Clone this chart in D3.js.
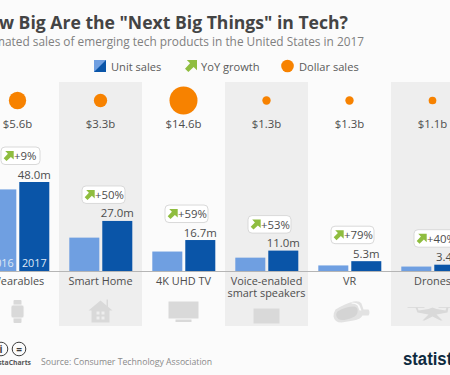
<!DOCTYPE html>
<html>
<head>
<meta charset="utf-8">
<script src="https://cdn.jsdelivr.net/npm/d3@7"></script>
<style>
html, body { margin: 0; padding: 0; background: #fbfbfb; overflow: hidden; }
text { font-family: "Open Sans", sans-serif; }
</style>
</head>
<body>
<div id="chart-area"></div>
<script>
const categories = ['Wearables', 'Smart Home', '4K UHD TV', 'Voice-enabled smart speakers', 'VR', 'Drones'];
const labelLines = [['Wearables'], ['Smart Home'], ['4K UHD TV'], ['Voice-enabled', 'smart speakers'], ['VR'], ['Drones']];
const years = ['2016', '2017'];
const units2016 = [44.0, 18.0, 10.5, 7.2, 3.0, 2.4];
const units2017 = [48.0, 27.0, 16.7, 11.0, 5.3, 3.4];
const growth = ['+9%', '+50%', '+59%', '+53%', '+79%', '+40%'];
const dollars = [5.6, 3.3, 14.6, 1.3, 1.3, 1.1];
const dollarLabels = ['$5.6b', '$3.3b', '$14.6b', '$1.3b', '$1.3b', '$1.1b'];
const unitLabels = ['48.0m', '27.0m', '16.7m', '11.0m', '5.3m', '3.4m'];

const width = 450, height = 375;
const baseY = 271, bandTop = 82, bandBottom = 326;
const lightBlue = '#6f9fe1', darkBlue = '#0a55a8', orange = '#f78200', green = '#8fbd3f';
const textColor = '#4d4d4d';

const svg = d3.select('#chart-area')
    .append('svg')
    .attr('width', width)
    .attr('height', height)
    .style('display', 'block');

svg.append('rect')
    .attr('width', width)
    .attr('height', height)
    .attr('fill', '#fbfbfb');

// six columns 83px wide, the first and last run off the edges of the picture
const xScale = d3.scaleBand()
    .domain(categories)
    .range([-24, 474]);

const barScale = d3.scaleBand()
    .domain(years)
    .range([10.3, 73.3])
    .paddingInner(0.09);

const yScale = d3.scaleLinear()
    .domain([0, 48])
    .range([baseY, baseY - 89]);

const rScale = d3.scaleSqrt()
    .domain([0, 14.6])
    .range([0, 14]);

// title
svg.append('text')
    .text('How Big Are the "Next Big Things" in Tech?')
    .attr('x', 348)
    .attr('y', 29)
    .attr('text-anchor', 'end')
    .attr('font-size', '17.6px')
    .attr('font-weight', 700)
    .attr('fill', '#444');

svg.append('text')
    .text('Estimated sales of emerging tech products in the United States in 2017')
    .attr('x', 364)
    .attr('y', 46)
    .attr('text-anchor', 'end')
    .attr('font-size', '11.85px')
    .attr('fill', '#808080');

// grey columns
svg.selectAll('.band')
    .data(categories.filter((d, i) => i % 2 === 1))
    .enter().append('rect')
    .attr('class', 'band')
    .attr('x', d => xScale(d))
    .attr('y', bandTop)
    .attr('width', xScale.bandwidth())
    .attr('height', bandBottom - bandTop)
    .attr('fill', '#eeeeee');

const arrow = (sel, size, color) => {
    sel.append('path')
        .attr('d', 'M1.5 0H10V8.5L7.2 5.9L2.8 10L0 7.2L4.2 2.8Z')
        .attr('transform', 'scale(' + size / 10 + ')')
        .attr('fill', color);
};

// legend
const legend = svg.append('g');

legend.append('rect')
    .attr('x', 94)
    .attr('y', 60)
    .attr('width', 12)
    .attr('height', 12)
    .attr('fill', darkBlue);

legend.append('path')
    .attr('d', 'M94 60H106L94 72Z')
    .attr('fill', lightBlue);

legend.append('g')
    .attr('transform', 'translate(185, 60)')
    .call(arrow, 12, green);

legend.append('circle')
    .attr('cx', 287.5)
    .attr('cy', 66)
    .attr('r', 6.3)
    .attr('fill', orange);

const legendItems = [['Unit sales', 111], ['YoY growth', 201], ['Dollar sales', 299]];

legend.selectAll('text')
    .data(legendItems)
    .enter().append('text')
    .attr('x', d => d[1])
    .attr('y', 70.5)
    .attr('font-size', '11.1px')
    .attr('fill', '#5a5a5a')
    .text(d => d[0]);

const columns = svg.selectAll('.column')
    .data(categories)
    .enter().append('g')
    .attr('class', 'column')
    .attr('transform', d => 'translate(' + xScale(d) + ', 0)');

const mid = xScale.bandwidth() / 2;

// dollar circles
columns.append('circle')
    .attr('cx', mid)
    .attr('cy', 100.5)
    .attr('r', (d, i) => rScale(dollars[i]))
    .attr('fill', orange);

columns.append('text')
    .attr('x', mid)
    .attr('y', 127.5)
    .attr('text-anchor', 'middle')
    .attr('font-size', '11.4px')
    .attr('fill', textColor)
    .text((d, i) => dollarLabels[i]);

// bars
columns.append('rect')
    .attr('x', barScale('2016'))
    .attr('y', (d, i) => yScale(units2016[i]))
    .attr('width', barScale.bandwidth())
    .attr('height', (d, i) => baseY - yScale(units2016[i]))
    .attr('fill', lightBlue);

columns.append('rect')
    .attr('x', barScale('2017'))
    .attr('y', (d, i) => yScale(units2017[i]))
    .attr('width', barScale.bandwidth())
    .attr('height', (d, i) => baseY - yScale(units2017[i]))
    .attr('fill', darkBlue);

columns.append('text')
    .attr('x', barScale('2017') + barScale.bandwidth() / 2)
    .attr('y', (d, i) => yScale(units2017[i]) - 3.5)
    .attr('text-anchor', 'middle')
    .attr('font-size', '11.4px')
    .attr('fill', textColor)
    .text((d, i) => unitLabels[i]);

// year labels, only on the first column
const firstColumn = columns.filter((d, i) => i === 0);

years.forEach(year => {
    firstColumn.append('text')
        .attr('x', barScale(year) + barScale.bandwidth() / 2)
        .attr('y', 267)
        .attr('text-anchor', 'middle')
        .attr('font-size', '10.8px')
        .attr('fill', '#dfe9f6')
        .text(year);
});

// growth badges
columns.each(function(d, i) {
    const boxW = i === 0 ? 39 : 43;
    const boxX = mid + 3 - boxW / 2;
    const boxY = yScale(units2017[i]) - 35;
    const badge = d3.select(this).append('g')
        .attr('transform', 'translate(' + boxX + ', ' + boxY + ')');

    badge.append('rect')
        .attr('width', boxW)
        .attr('height', 17.5)
        .attr('rx', 4)
        .attr('fill', '#fff')
        .attr('stroke', '#d9d9d9');

    badge.append('g')
        .attr('transform', 'translate(2.7, 4)')
        .call(arrow, 10, green);

    badge.append('text')
        .attr('x', 13)
        .attr('y', 13)
        .attr('font-size', '11.4px')
        .attr('fill', textColor)
        .text(growth[i]);
});

// baseline and category labels
const xAxisCall = d3.axisBottom(xScale)
    .tickSize(0)
    .tickFormat('');

const xAxis = svg.append('g')
    .attr('transform', 'translate(0, ' + baseY + ')')
    .call(xAxisCall);

xAxis.select('.domain').attr('stroke', '#b5b5b5');
xAxis.selectAll('.tick text').remove();

columns.each(function(d, i) {
    d3.select(this).selectAll('.cat')
        .data(labelLines[i])
        .enter().append('text')
        .attr('class', 'cat')
        .attr('x', mid)
        .attr('y', (line, j) => 285 + j * 12)
        .attr('text-anchor', 'middle')
        .attr('font-size', '10.9px')
        .attr('fill', textColor)
        .text(line => line);
});

// product icons, drawn around the middle of each column
const iconColor = '#d9d9d9';
const icons = columns.append('g')
    .attr('transform', 'translate(' + mid + ', 311.5)')
    .attr('fill', iconColor);

icons.filter((d, i) => i === 0).call(g => {
    g.append('rect').attr('x', -4).attr('y', -11.5).attr('width', 8).attr('height', 23).attr('rx', 1);
    g.append('rect').attr('x', -6.5).attr('y', -6.5).attr('width', 13).attr('height', 13).attr('rx', 2)
        .attr('stroke', '#fbfbfb').attr('stroke-width', 0.8);
});

icons.filter((d, i) => i === 1).call(g => {
    g.append('path').attr('d', 'M-12 -1L0 -11L12 -1L9 -1V11H-9V-1Z');
    g.append('rect').attr('x', 6).attr('y', -12).attr('width', 1.5).attr('height', 8);
    g.append('path').attr('d', 'M-4 0H-1V3H-4ZM1 0H4V3H1ZM-4 5H-1V8H-4ZM1 5H4V8H1Z').attr('fill', '#eeeeee');
});

icons.filter((d, i) => i === 2).call(g => {
    g.append('rect').attr('x', -15).attr('y', -10).attr('width', 30).attr('height', 17);
    g.append('rect').attr('x', -8).attr('y', 8).attr('width', 16).attr('height', 2.5);
});

icons.filter((d, i) => i === 3).call(g => {
    g.append('rect').attr('x', -13).attr('y', -3).attr('width', 26).attr('height', 15);
});

// headset seen from the side, strap running back to the right
icons.filter((d, i) => i === 4).call(g => {
    g.append('path').attr('d', 'M-14 -2Q-4 -8 4 -10Q10 -11 12 -8L14 -2H19Q21 1 19 4H13Q11 8 4 9L-8 11Q-15 11 -16 5Q-16 1 -14 -2Z')
        .attr('fill', '#e2e2e2');
    g.append('path').attr('d', 'M-12 0Q-4 -5 5 -5Q9 -4 8 1Q7 6 -3 8Q-11 10 -13 5Q-14 2 -12 0Z')
        .attr('fill', '#d4d4d4');
    g.append('path').attr('d', 'M2 -9Q8 -9 10 -6L12 -1H10L8 -6Q6 -8 2 -8Z')
        .attr('fill', '#fbfbfb');
});

icons.filter((d, i) => i === 5).call(g => {
    g.append('rect').attr('x', -25).attr('y', -4.5).attr('width', 17).attr('height', 0.8);
    g.append('rect').attr('x', 6).attr('y', -4.5).attr('width', 17).attr('height', 0.8);
    g.append('path').attr('d', 'M-17 -4H-15L-14 -1L-4 -2.5L0 -4L4 -2.5L13 -1L14 -4H16L15 1L4 3L10 9H8L0 5L-8 9H-10L-4 3L-15 1Z');
});

// footer
[1, 19].forEach((cx, i) => {
    svg.append('circle')
        .attr('cx', cx)
        .attr('cy', 349)
        .attr('r', 6.8)
        .attr('fill', 'none')
        .attr('stroke', '#3d3d3d')
        .attr('stroke-width', 1);

    svg.append('text')
        .attr('x', cx)
        .attr('y', 352.5)
        .attr('text-anchor', 'middle')
        .attr('font-size', '10px')
        .attr('font-weight', 700)
        .attr('fill', '#3d3d3d')
        .text(i === 0 ? 'i' : '=');
});

svg.append('text')
    .attr('x', 31)
    .attr('y', 365)
    .attr('text-anchor', 'end')
    .attr('font-size', '6.8px')
    .attr('font-weight', 700)
    .attr('fill', '#555')
    .text('@StatistaCharts');

svg.append('text')
    .attr('x', 41)
    .attr('y', 365)
    .attr('font-size', '8.7px')
    .attr('fill', '#8a8a8a')
    .text('Source: Consumer Technology Association');

svg.append('text')
    .attr('transform', 'translate(403, 365) scale(0.88, 1)')
    .attr('font-size', '19px')
    .attr('font-weight', 700)
    .attr('fill', '#0e2a40')
    .style('font-family', '"Liberation Sans Narrow", "Liberation Sans", sans-serif')
    .text('statista');
</script>
</body>
</html>
